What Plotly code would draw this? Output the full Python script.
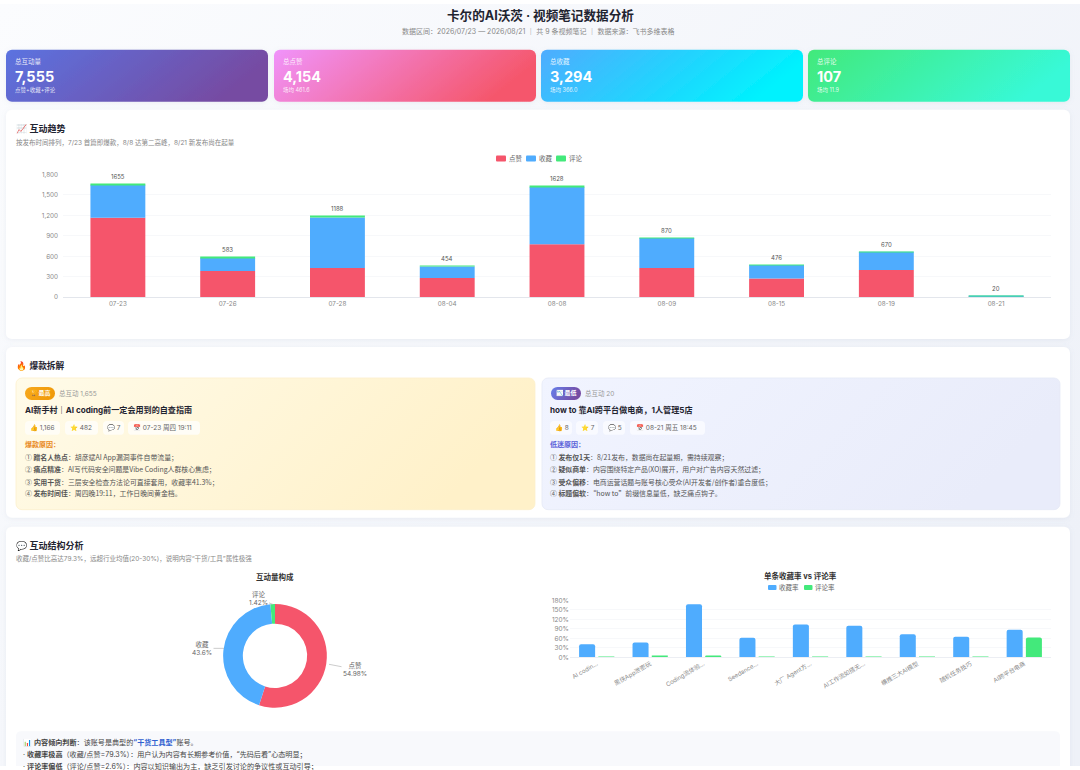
import base64
import plotly.graph_objects as go

W, H = 1080, 770
FONT = "Inter, 'Noto Sans CJK SC', sans-serif"
CJK = "'Noto Sans CJK SC', Inter, sans-serif"
RED, BLUE, GREEN = "#f5556b", "#4facfe", "#43e97b"

# ---- data ----
dates = ["07-23", "07-26", "07-28", "08-04", "08-08", "08-09", "08-15", "08-19", "08-21"]
likes = [1166, 385, 430, 280, 777, 430, 275, 400, 8]
collects = [482, 193, 740, 171, 839, 437, 198, 267, 7]
comments = [7, 5, 18, 3, 12, 3, 3, 3, 5]
totals = [1655, 583, 1188, 454, 1628, 870, 476, 670, 20]

note_names = ["AI codin...", "黑侠App泄密玩", "Coding流体验...", "Seedance...", "大厂 Agent方...",
              "AI工作流如搭无...", "横推三大AI模型", "随机任务技巧", "AI跨平台电商"]
collect_rate = [41, 47, 168, 62, 104, 100, 73, 65, 87.5]
comment_rate = [0.6, 3, 5, 2, 1.5, 2, 2, 1, 62.5]

mix_labels = ["点赞", "收藏", "评论"]
mix_values = [4154, 3294, 107]

kpi_titles = ["总互动量", "总点赞", "总收藏", "总评论"]
kpi_values = ["7,555", "4,154", "3,294", "107"]
kpi_notes = ["点赞+收藏+评论", "场均 461.6", "场均 366.0", "场均 11.9"]


def Y(y):
    return (y - 4.1) / 0.992


def px(x):
    return x / W


def py(y):
    return 1 - Y(y) / H


def card(x0, y0, x1, y1, r, fill, extra=""):
    a, b = Y(y0), Y(y1)
    return f'<rect x="{x0}" y="{a:.2f}" width="{x1-x0}" height="{b-a:.2f}" rx="{r}" fill="{fill}" {extra}/>'


def grad(i, a, b, y2=0.25):
    return (f'<linearGradient id="{i}" x1="0" y1="0" x2="1" y2="{y2}">'
            f'<stop offset="0" stop-color="{a}"/><stop offset="1" stop-color="{b}"/></linearGradient>')


svg = [f'<svg xmlns="http://www.w3.org/2000/svg" width="{W}" height="{H}" viewBox="0 0 {W} {H}"><defs>',
       grad("bg", "#fbfcfe", "#eef1f8", 0.7), grad("k1", "#5b73e0", "#764ba2"), grad("k2", "#f093fb", "#f5576c"),
       grad("k3", "#4facfe", "#00f2fe"), grad("k4", "#43e97b", "#38f9d7"),
       grad("hi", "#fffbe9", "#fff1c9"), grad("lo", "#f1f4ff", "#e9ecfa"),
       grad("b1", "#f7a81b", "#f09a0a"), grad("b2", "#667eea", "#764ba2"),
       '<filter id="s" x="-5%" y="-10%" width="110%" height="125%"><feDropShadow dx="0" dy="1" stdDeviation="2.5" flood-color="#8090b0" flood-opacity="0.12"/></filter>',
       '</defs>',
       f'<rect x="0" y="0" width="{W}" height="{H}" fill="url(#bg)"/>']
kpi_x = [(6, 268), (274, 536), (541, 803), (808, 1070)]
for i, (a, b) in enumerate(kpi_x):
    svg.append(card(a, 50, b, 102, 6, f"url(#k{i+1})", 'filter="url(#s)"'))
for y0, y1 in [(110, 340), (348, 519), (528, 800)]:
    svg.append(card(6, y0, 1070, y1, 6, "#ffffff", 'filter="url(#s)"'))
svg.append(card(16, 379, 535, 511, 6, "url(#hi)", 'stroke="#fdf0cc" stroke-width="0.8"'))
svg.append(card(542, 379, 1060, 511, 6, "url(#lo)", 'stroke="#e6e9f6" stroke-width="0.8"'))
svg.append(card(25, 388, 55, 401, 6.5, "url(#b1)"))
svg.append(card(551, 388, 581, 401, 6.5, "url(#b2)"))
for a, b in [(25, 60), (65, 98), (103, 124), (128, 200)]:
    svg.append(card(a, 422, b, 436, 4, "#fffdf6"))
for a, b in [(550, 572), (576, 598), (603, 625), (630, 705)]:
    svg.append(card(a, 422, b, 436, 4, "#f9faff"))
svg.append(card(16, 733, 1060, 800, 5, "#f8f9fc"))
# key swatches
for a, y, c in [(496, 159, RED), (526, 159, BLUE), (556, 159, GREEN)]:
    svg.append(card(a, y - 3, a + 10, y + 3, 1, c))
for a, y, c in [(768, 589, BLUE), (804, 589, GREEN)]:
    svg.append(card(a, y - 2.5, a + 8.5, y + 2.5, 1, c))
svg.append('</svg>')
bg_uri = "data:image/svg+xml;base64," + base64.b64encode("".join(svg).encode()).decode()

notes = []


def text(x, y, s, size=7, color="#333333", anchor="left", family=FONT):
    if anchor == "left":
        x -= 2
    notes.append(dict(x=px(x), y=py(y), xref="paper", yref="paper", text=s, showarrow=False,
                      xanchor=anchor, yanchor="middle", align=anchor,
                      font=dict(size=size, color=color, family=family)))


text(540, 16, "<b>卡尔的AI沃茨 · 视频笔记数据分析</b>", 12.6, "#1f2430", "center")
text(538, 32, "数据区间：2026/07/23 — 2026/08/21 ｜ 共 9 条视频笔记 ｜ 数据来源：飞书多维表格", 7, "#888888", "center")

for (a, b), t, v, n in zip(kpi_x, kpi_titles, kpi_values, kpi_notes):
    text(a + 9, 62, t, 6.5, "rgba(255,255,255,0.88)")
    text(a + 9, 77, f"<b>{v}</b>", 14.5, "#ffffff")
    text(a + 9, 90, n, 5.5, "rgba(255,255,255,0.85)")

text(16, 129, "📈 <b>互动趋势</b>", 9, "#1f2430")
text(16, 143, "按发布时间排列，7/23 首篇即爆款，8/8 达第二高峰，8/21 新发布尚在起量", 6.5, "#888888")
text(16, 366, "🔥 <b>爆款拆解</b>", 8.7, "#1f2430")
text(16, 547, "💬 <b>互动结构分析</b>", 9, "#1f2430")
text(16, 560, "收藏/点赞比高达79.3%，远超行业均值(20-30%)，说明内容“干货/工具”属性极强", 6.5, "#888888")

# highlight left
text(40, 394.5, "<b>🏆 最高</b>", 6, "#ffffff", "center")
text(59, 395, "总互动 1,655", 6.5, "#999999")
text(25, 411, "<b>AI新手村｜AI coding前一定会用到的自查指南</b>", 8.1, "#1f2430")
for x, s in [(30, "👍 1,166"), (70, "⭐ 482"), (107, "💬 7"), (133, "📅 07-23 周四 19:11")]:
    text(x, 429, s, 6.5, "#666666")
text(25, 446, "<b>爆款原因：</b>", 7, "#e8891c")
for y, s in [(458, "① <b>蹭名人热点</b>：胡彦斌AI App漏洞事件自带流量；"),
             (470, "② <b>痛点精准</b>：AI写代码安全问题是Vibe Coding人群核心焦虑；"),
             (483, "③ <b>实用干货</b>：三层安全检查方法论可直接套用，收藏率41.3%；"),
             (494, "④ <b>发布时间佳</b>：周四晚19:11，工作日晚间黄金档。")]:
    text(25, y, s, 6.9, "#555555", family=CJK)

# highlight right
text(566, 394.5, "<b>📉 最低</b>", 6, "#ffffff", "center")
text(585, 395, "总互动 20", 6.5, "#999999")
text(550, 411, "<b>how to 靠AI跨平台做电商，1人管理5店</b>", 8.1, "#1f2430")
for x, s in [(555, "👍 8"), (581, "⭐ 7"), (608, "💬 5"), (636, "📅 08-21 周五 18:45")]:
    text(x, 429, s, 6.5, "#666666")
text(550, 446, "<b>低迷原因：</b>", 7, "#5a5fd8")
for y, s in [(458, "① <b>发布仅1天</b>：8/21发布，数据尚在起量期，需持续观察；"),
             (470, "② <b>疑似商单</b>：内容围绕特定产品(XO)展开，用户对广告内容天然过滤；"),
             (483, "③ <b>受众偏移</b>：电商运营话题与账号核心受众(AI开发者/创作者)重合度低；"),
             (494, "④ <b>标题偏软</b>：“how to”前缀信息量低，缺乏痛点钩子。")]:
    text(550, y, s, 6.9, "#555555", family=CJK)

# lower charts
text(275, 578, "<b>互动量构成</b>", 7.5, "#333333", "center")
text(800, 577, "<b>单条收藏率 vs 评论率</b>", 7.5, "#333333", "center")

text(23, 744, "📊 <b>内容倾向判断</b>：该账号是典型的<b><span style='color:#2f5fd0'>“干货工具型”</span></b>账号。", 7.1, "#444444")
text(23, 756, "· <b>收藏率极高</b>（收藏/点赞=79.3%）：用户认为内容有长期参考价值，“先码后看”心态明显；", 7.1, "#444444")
text(23, 768, "· <b>评论率偏低</b>（评论/点赞=2.6%）：内容以知识输出为主，缺乏引发讨论的争议性或互动引导；", 7.1, "#444444")

# chart keys
for x, s in [(509, "点赞"), (539, "收藏"), (569, "评论")]:
    text(x, 159, s, 6.5, "#666666")
for x, s in [(779, "收藏率"), (815, "评论率")]:
    text(x, 589, s, 6.5, "#666666")

# donut leader labels
mix_total = sum(mix_values)
cx, cy, R = 275, 657.5, 52
leader = [(329, 666, 26, 5), (224, 650, -22, 0), (273, 606, -15, -6)]
for (x, y, ax, ay), lab, val in zip(leader, mix_labels, mix_values):
    pct = f"{val / mix_total * 100:.2f}".rstrip("0").rstrip(".")
    notes.append(dict(x=px(x), y=py(y), xref="paper", yref="paper", ax=ax, ay=ay, axref="pixel", ayref="pixel",
                      text=f"{lab}<br>{pct}%", showarrow=True, arrowhead=0, arrowwidth=0.6, arrowcolor="#aaaaaa",
                      standoff=0, startstandoff=0, font=dict(size=6.5, color="#666666", family=FONT)))

# stack totals above the bars
for d, t in zip(dates, totals):
    notes.append(dict(x=d, y=t, xref="x", yref="y", text=str(t), showarrow=False, yanchor="bottom", yshift=2,
                      font=dict(size=6, color="#555555", family=FONT)))

fig = go.Figure()
base = [0] * len(dates)
for name, vals, col in [("点赞", likes, RED), ("收藏", collects, BLUE), ("评论", comments, GREEN)]:
    fig.add_bar(x=dates, y=vals, base=base, name=name, marker=dict(color=col, line_width=0), width=0.5,
                xaxis="x", yaxis="y", showlegend=False)
    base = [b + v for b, v in zip(base, vals)]

fig.add_bar(x=note_names, y=collect_rate, name="收藏率", marker=dict(color=BLUE, line_width=0, cornerradius=2),
            width=0.3, offset=-0.33, xaxis="x2", yaxis="y2", showlegend=False)
fig.add_bar(x=note_names, y=comment_rate, name="评论率", marker=dict(color=GREEN, line_width=0, cornerradius=2),
            width=0.3, offset=0.03, xaxis="x2", yaxis="y2", showlegend=False)

fig.add_pie(labels=mix_labels, values=mix_values, hole=0.62, sort=False, direction="clockwise", rotation=0,
            marker=dict(colors=[RED, BLUE, GREEN], line_width=0), textinfo="none", showlegend=False,
            domain=dict(x=[px(cx - R), px(cx + R)], y=[py(cy + R), py(cy - R)]))

tickfont = dict(size=6.3, color="#888888", family=FONT)
fig.update_layout(
    width=W, height=H, autosize=False, margin=dict(l=0, r=0, t=0, b=0),
    paper_bgcolor="rgba(0,0,0,0)", plot_bgcolor="rgba(0,0,0,0)",
    font=dict(family=FONT), barmode="overlay", showlegend=False,
    images=[dict(source=bg_uri, xref="paper", yref="paper", x=0, y=1, sizex=1, sizey=1, xanchor="left", yanchor="top",
                 sizing="stretch", layer="below")],
    annotations=notes,
    xaxis=dict(domain=[px(63), px(1051)], anchor="y", showgrid=False, showline=True, linecolor="#e3e6ec", linewidth=0.7,
               ticks="", tickfont=tickfont, type="category", fixedrange=True),
    yaxis=dict(domain=[py(298), py(175)], anchor="x", range=[0, 1800], dtick=300, tickformat=",", gridcolor="#f7f8fa",
               gridwidth=0.6, zeroline=False, showline=False, tickfont=tickfont, ticks="", ticklabelstandoff=4,
               fixedrange=True),
    xaxis2=dict(domain=[px(570), px(1051)], anchor="y2", showgrid=False, showline=True, linecolor="#eceef3",
                linewidth=0.7, ticks="", tickangle=-30, tickfont=dict(size=6, color="#8a8a8a", family=FONT),
                type="category", fixedrange=True),
    yaxis2=dict(domain=[py(659), py(602)], anchor="x2", range=[0, 180], dtick=30, ticksuffix="%", gridcolor="#f7f8fa",
                gridwidth=0.6, zeroline=False, showline=False, tickfont=dict(size=6.5, color="#888888", family=FONT),
                ticks="", fixedrange=True),
    hovermode="closest",
)
fig.write_html("out.html", config=dict(displayModeBar=False),
               post_script="document.body.style.margin='0';document.body.style.overflow='hidden';")
